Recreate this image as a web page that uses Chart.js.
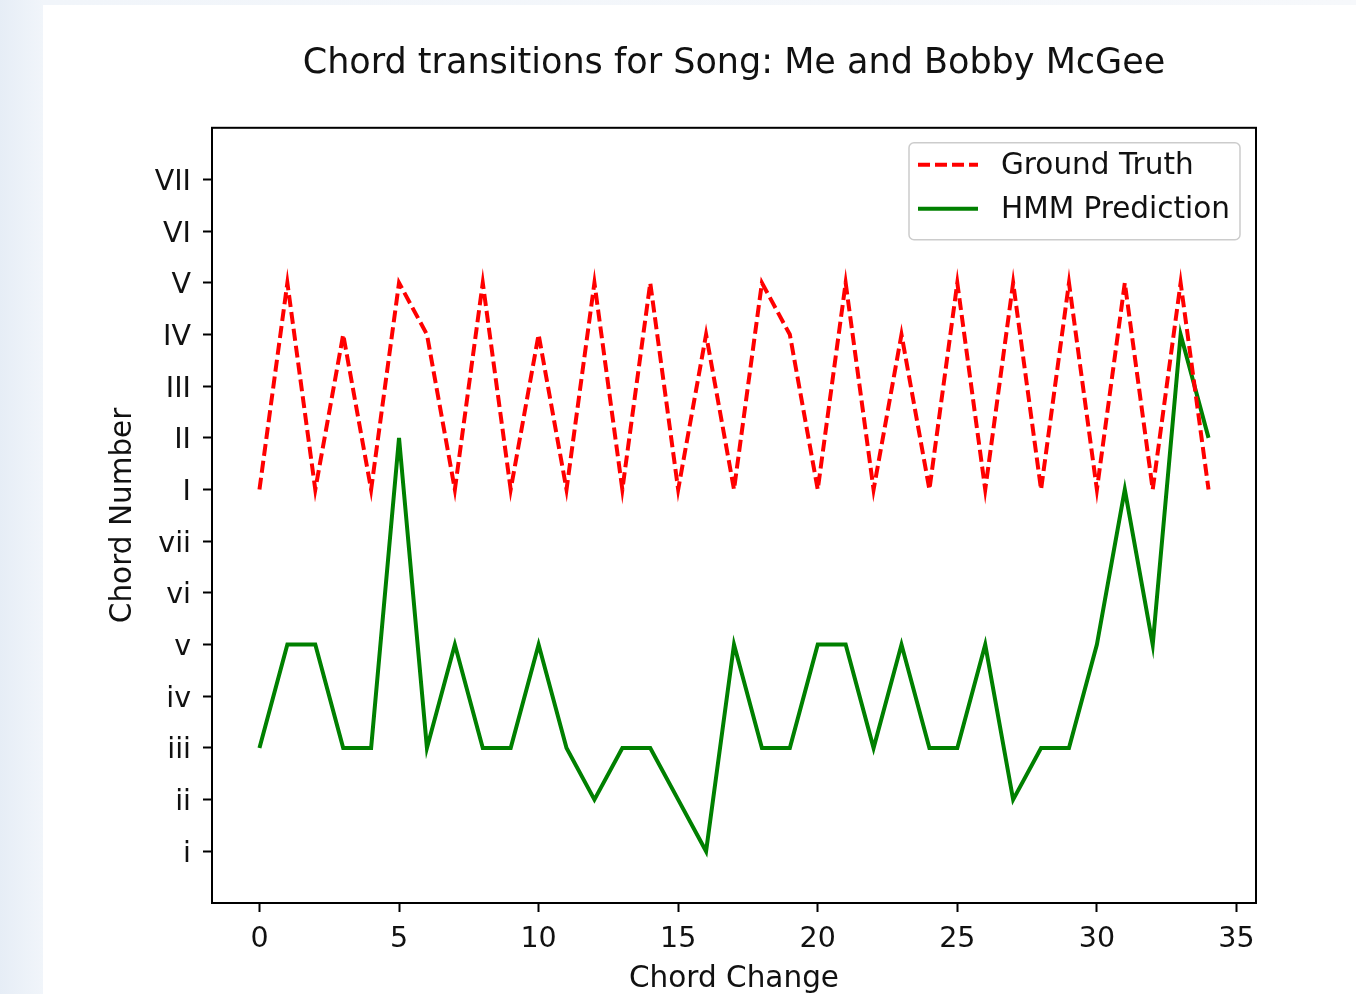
<!DOCTYPE html>
<html>
<head>
<meta charset="utf-8">
<script src="https://cdn.jsdelivr.net/npm/chart.js@4/dist/chart.umd.min.js"></script>
<style>
  html, body { margin: 0; padding: 0; }
  body {
    width: 1356px; height: 994px; overflow: hidden; position: relative;
    background: linear-gradient(to right, #e6edf6 0px, #f1f5fa 43px, #f6f8fb 100%);
  }
  #panel { position: absolute; left: 43px; top: 5px; right: 0; bottom: 0; background: #fff; }
  #myChart { position: absolute; left: 0; top: 0; }
</style>
</head>
<body>
<div id="panel"></div>
<canvas id="myChart" width="1356" height="994"></canvas>
<script>
// chord names for the y axis, index = chord number
const chordNames = ['i', 'ii', 'iii', 'iv', 'v', 'vi', 'vii', 'I', 'II', 'III', 'IV', 'V', 'VI', 'VII'];
const xTicks = [0, 5, 10, 15, 20, 25, 30, 35];

const groundTruth = [7, 11, 7, 10, 7, 11, 10, 7, 11, 7, 10, 7, 11, 7, 11, 7, 10, 7, 11, 10, 7, 11, 7, 10, 7, 11, 7, 11, 7, 11, 7, 11, 7, 11, 7];
const hmmPrediction = [2, 4, 4, 2, 2, 8, 2, 4, 2, 2, 4, 2, 1, 2, 2, 1, 0, 4, 2, 2, 4, 4, 2, 4, 2, 2, 4, 1, 2, 2, 4, 7, 4, 10, 8];

const FONT = 'DejaVu Sans';
const ctx = document.getElementById('myChart').getContext('2d');

function toPoints(arr) {
  return arr.map((v, i) => ({ x: i, y: v }));
}

// box round the plot + legend in the upper right corner, like matplotlib
const framePlugin = {
  id: 'frame',
  afterDraw(chart) {
    const a = chart.chartArea;
    const c = chart.ctx;
    c.save();
    c.strokeStyle = '#000';
    c.lineWidth = 2;
    c.setLineDash([]);
    c.strokeRect(a.left, a.top, a.right - a.left, a.bottom - a.top);

    // legend
    const bx = a.right - 347, by = a.top + 15, bw = 331, bh = 97;
    c.beginPath();
    c.roundRect(bx, by, bw, bh, 5);
    c.fillStyle = 'rgba(255,255,255,0.8)';
    c.fill();
    c.strokeStyle = '#cccccc';
    c.lineWidth = 1.5;
    c.stroke();
    c.font = '29.5px "' + FONT + '"';
    c.textBaseline = 'middle';
    c.textAlign = 'left';
    chart.data.datasets.forEach((ds, i) => {
      const y = by + 22 + i * 44;
      c.beginPath();
      c.strokeStyle = ds.borderColor;
      c.lineWidth = ds.borderWidth;
      c.setLineDash(ds.borderDash || []);
      c.moveTo(bx + 9, y);
      c.lineTo(bx + 69, y);
      c.stroke();
      c.setLineDash([]);
      c.fillStyle = '#111';
      c.fillText(ds.label, bx + 92, y + 2);
    });
    c.restore();
  }
};

const myChart = new Chart(ctx, {
  type: 'line',
  data: {
    datasets: [
      {
        label: 'Ground Truth',
        data: toPoints(groundTruth),
        borderColor: '#ff0000',
        backgroundColor: '#ff0000',
        borderWidth: 4,
        borderDash: [12, 5],
        pointRadius: 0,
        tension: 0,
        fill: false
      },
      {
        label: 'HMM Prediction',
        data: toPoints(hmmPrediction),
        borderColor: '#008000',
        backgroundColor: '#008000',
        borderWidth: 4,
        pointRadius: 0,
        tension: 0,
        fill: false
      }
    ]
  },
  options: {
    responsive: false,
    animation: false,
    layout: { padding: { left: 0, right: 100, top: 0, bottom: 0 } },
    plugins: {
      legend: { display: false },
      tooltip: { enabled: false },
      title: {
        display: true,
        text: 'Chord transitions for Song: Me and Bobby McGee',
        fullSize: false,
        color: '#111',
        font: { family: FONT, size: 35, weight: 'normal' },
        padding: { top: 43, bottom: 42.8 }
      }
    },
    scales: {
      x: {
        type: 'linear',
        min: -1.7,
        max: 35.7,
        afterBuildTicks(scale) {
          scale.ticks = xTicks.map(v => ({ value: v }));
        },
        afterFit(scale) { scale.height = 91; },
        grid: { drawOnChartArea: false, drawTicks: true, tickLength: 9, tickWidth: 2, tickColor: '#000' },
        border: { display: true, color: '#000', width: 2 },
        ticks: {
          color: '#111',
          font: { family: FONT, size: 28.5 },
          padding: 10,
          maxRotation: 0,
          autoSkip: false
        },
        title: {
          display: true,
          text: 'Chord Change',
          color: '#111',
          font: { family: FONT, size: 29.5 },
          padding: { top: 0, bottom: -3 }
        }
      },
      y: {
        type: 'linear',
        min: -1,
        max: 14,
        afterBuildTicks(scale) {
          scale.ticks = chordNames.map((n, i) => ({ value: i }));
        },
        afterFit(scale) { scale.width = 212; },
        grid: { drawOnChartArea: false, drawTicks: true, tickLength: 9, tickWidth: 2, tickColor: '#000' },
        border: { display: true, color: '#000', width: 2 },
        ticks: {
          color: '#111',
          font: { family: FONT, size: 28.5 },
          padding: 12,
          labelOffset: 3,
          autoSkip: false,
          callback: (v) => chordNames[v]
        },
        title: {
          display: true,
          text: 'Chord Number',
          color: '#111',
          font: { family: FONT, size: 29.5 },
          padding: { top: 106, bottom: 0 }
        }
      }
    }
  },
  plugins: [framePlugin]
});
</script>
</body>
</html>
